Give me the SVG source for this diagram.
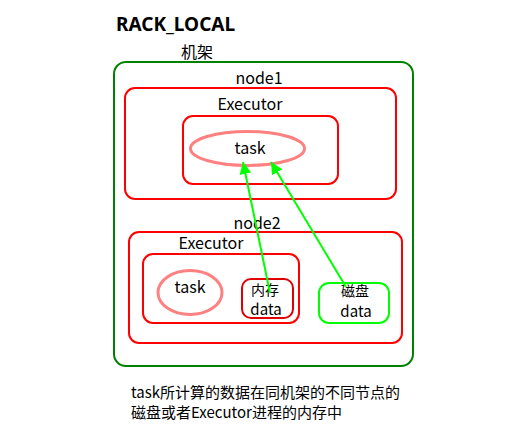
<svg xmlns="http://www.w3.org/2000/svg" width="506" height="444" viewBox="0 0 506 444">
<style>
text{font-family:"Noto Sans CJK SC","Noto Sans",sans-serif;fill:#000}
.t{font-size:16px}
.s{font-size:15px}
.m{font-size:14px}
.red{fill:none;stroke:#ff0000;stroke-width:2}
.pink{fill:none;stroke:#ff8080;stroke-width:3}
.conn{stroke:#00ff00;stroke-width:2;fill:none;marker-end:url(#ah)}
</style>
<defs>
<marker id="ah" markerWidth="12" markerHeight="12" refX="10" refY="5" orient="auto" markerUnits="userSpaceOnUse" viewBox="0 0 10 10">
<path d="M0,0 L10,5 L0,10 z" fill="#00ff00"/>
</marker>
</defs>
<rect width="506" height="444" fill="#fff"/>
<text x="116" y="31" style="font-size:19px;font-weight:bold;font-family:'Noto Sans','Liberation Sans',sans-serif">RACK_LOCAL</text>
<g id="rack">
<rect x="114" y="62" width="299" height="304" rx="12" fill="none" stroke="#008000" stroke-width="2"/>
<text x="181" y="58" class="t">机架</text>
</g>
<g id="node1">
<rect x="125" y="88" width="271" height="111" rx="10" class="red"/>
<text x="259" y="84" class="t" text-anchor="middle">node1</text>
<text x="250" y="110" class="t" text-anchor="middle">Executor</text>
</g>
<g id="executor1">
<rect x="183" y="116" width="155" height="68" rx="10" class="red"/>
</g>
<g id="task1">
<ellipse cx="247.5" cy="148.5" rx="57" ry="17" class="pink"/>
<text x="250" y="154" class="t" text-anchor="middle">task</text>
</g>
<g id="node2">
<rect x="129" y="232" width="273" height="111" rx="10" class="red"/>
<text x="257" y="229" class="t" text-anchor="middle">node2</text>
<text x="211" y="249" class="t" text-anchor="middle">Executor</text>
</g>
<g id="executor2">
<rect x="143" y="254" width="156" height="69" rx="10" class="red"/>
</g>
<g id="task2">
<ellipse cx="190" cy="292.5" rx="32" ry="22" class="pink"/>
<text x="190" y="293" class="t" text-anchor="middle">task</text>
</g>
<g id="mem">
<rect x="242" y="279" width="51" height="39" rx="9" fill="none" stroke="#e00000" stroke-width="2"/>
<text x="265" y="295" class="m" text-anchor="middle">内存</text>
<text x="266" y="315" class="s" text-anchor="middle">data</text>
</g>
<g id="disk">
<rect x="319" y="283" width="70" height="40" rx="10" fill="none" stroke="#00ff00" stroke-width="2"/>
<text x="355" y="296" class="m" text-anchor="middle">磁盘</text>
<text x="356" y="317" class="s" text-anchor="middle">data</text>
</g>
<g id="connectors">
<line x1="270" y1="293" x2="243" y2="162" class="conn"/>
<line x1="346" y1="287" x2="271" y2="162" class="conn"/>
</g>
<g id="caption">
<text x="131" y="398" class="s">task所计算的数据在同机架的不同节点的</text>
<text x="131" y="418" class="s">磁盘或者Executor进程的内存中</text>
</g>
</svg>
